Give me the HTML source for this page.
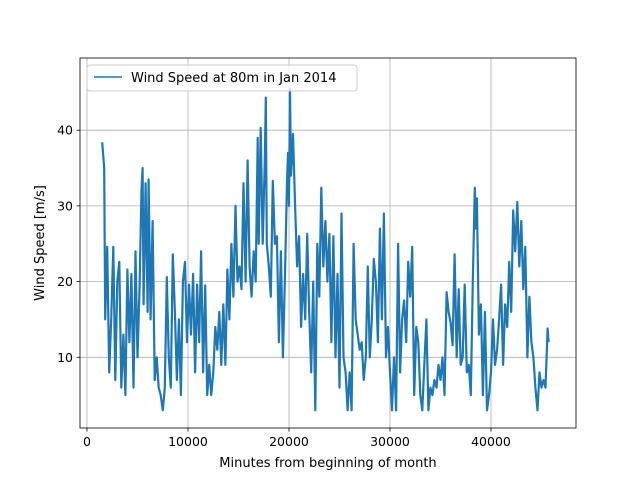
<!DOCTYPE html>
<html><head><meta charset="utf-8"><style>body{margin:0;background:#fff}svg{display:block;font-family:"DejaVu Sans","Liberation Sans",sans-serif}</style></head>
<body>
<svg id="chart" width="640" height="480">
<rect x="80" y="58" width="496" height="370" fill="#fff" stroke="none"/>
<g id="grid"></g>
<path id="line" fill="none" stroke="#1f77b4" stroke-width="2.2" stroke-linejoin="round"/>
<rect x="80" y="58" width="496" height="370" fill="none" stroke="#000" stroke-width="0.8"/>
<g id="ticks"></g>
<text x="328" y="467" font-size="13" text-anchor="middle">Minutes from beginning of month</text>
<text transform="translate(44,243) rotate(-90)" font-size="13" text-anchor="middle">Wind Speed [m/s]</text>
<g>
<rect x="87" y="65" width="270" height="26" rx="3" fill="#fff" fill-opacity="0.8" stroke="#ccc"/>
<line x1="94" y1="77" x2="122" y2="77" stroke="#1f77b4" stroke-width="1.5"/>
<text x="131" y="82" font-size="13">Wind Speed at 80m in Jan 2014</text>
</g>
</svg>
<script>
const minutes=[1500,1700,1800,2000,2200,2400,2600,2800,3000,3200,3400,3600,3800,4000,4200,4400,4600,4800,5000,5200,5400,5500,5600,5800,6000,6100,6300,6500,6700,6900,7100,7300,7500,7700,7900,8100,8300,8500,8700,8900,9100,9300,9500,9700,9900,10100,10300,10500,10700,10900,11100,11300,11500,11700,11900,12100,12300,12500,12700,12900,13100,13300,13500,13700,13900,14100,14300,14500,14700,14900,15100,15300,15500,15700,15900,16100,16300,16500,16700,16900,17000,17200,17400,17600,17700,17800,18000,18200,18400,18600,18800,19000,19200,19400,19600,19800,19900,20000,20100,20200,20400,20600,20800,21000,21200,21400,21600,21800,22000,22200,22400,22600,22800,23000,23200,23400,23600,23800,24000,24200,24400,24600,24800,25000,25200,25400,25600,25800,26000,26200,26400,26600,26800,27000,27200,27400,27600,27800,28000,28200,28400,28600,28800,29000,29200,29400,29600,29800,30000,30200,30400,30600,30800,31000,31200,31400,31600,31800,32000,32200,32400,32600,32800,33000,33200,33400,33600,33800,34000,34200,34400,34600,34800,35000,35200,35400,35600,35800,36000,36200,36400,36600,36800,37000,37200,37400,37600,37800,38000,38200,38400,38500,38600,38800,39000,39200,39400,39600,39800,40000,40200,40400,40600,40800,41000,41200,41400,41600,41800,42000,42200,42400,42600,42800,43000,43200,43400,43600,43800,44000,44200,44400,44600,44800,45000,45200,45400,45600,45700];
const speeds=[38.4,35,15,24.6,8,15,24.6,7,20,22.6,6,13,5,21.6,12,21,6,24,10,19,32,35,17,33,16,33.5,15,28,7,10,6,5,3,6,20.6,10,6,23.6,16,7,15,5,20,22.6,12,19.6,13,21,8,19.6,12,24,8,19.5,5,9,5,8,14,11,16,9,17,9,21.6,15,25,18,30,20,22,19,33,20,36,22,18,24,20,39,25,40.3,25,36,44.3,25,22,18,33.3,25,26,12,24,10,21,33,37,30,45.5,34,39.5,30,22,26,14,21,15,26.3,16,8,20,3,25,18,32.4,22,28,20,26.3,12,26,10,21,6,29,10,8,3,8,3,25,15,13,11,12,7,10,22,10,15,23,20,12,27,15,29,10,14,8,3,10,3,25,8,15,17.5,12,22.6,18,24.6,5,14,12,5,3,9,15,3,6,5,7,6,9,7,10,5,18.6,16,14.6,11.6,23.6,10,19,9,10,19.6,8,9,5,20,32.4,27,31,13,17,5,16,3,5,8,15,9,11,15,19.6,9,17,14,22.6,16,29.4,24,30.5,22,28,19,24.6,10,18,12,10,6,3,8,6,7,6,13.8,12];
const xTicks=[0,10000,20000,30000,40000];
const yTicks=[10,20,30,40];
const X=m=>87+m*0.0101;
const Y=v=>433-v*7.57;
const ns="http://www.w3.org/2000/svg";
const grid=document.getElementById('grid'),ticks=document.getElementById('ticks');
function mk(tag,attrs,parent){const e=document.createElementNS(ns,tag);for(const k in attrs)e.setAttribute(k,attrs[k]);parent.appendChild(e);return e;}
xTicks.forEach(t=>{const x=X(t);
 const g=mk('line',{x1:x,x2:x,y1:58,y2:428,stroke:'#b0b0b0','stroke-width':0.8},grid);
 
 
 mk('line',{x1:x,x2:x,y1:428,y2:431.5,stroke:'#000','stroke-width':0.8},ticks);
 const l=mk('text',{x:x,y:446,'font-size':12.5,'text-anchor':'middle'},ticks);l.textContent=t;
 
 });
yTicks.forEach(t=>{const y=Y(t);
 const g=mk('line',{x1:80,x2:576,y1:y,y2:y,stroke:'#b0b0b0','stroke-width':0.8},grid);
 
 
 mk('line',{x1:76.5,x2:80,y1:y,y2:y,stroke:'#000','stroke-width':0.8},ticks);
 const l=mk('text',{x:73,y:y+4.5,'font-size':12.5,'text-anchor':'end'},ticks);l.textContent=t;
 
 });
document.getElementById('line').setAttribute('d',minutes.map((m,i)=>(i?'L':'M')+X(m).toFixed(1)+','+Y(speeds[i]).toFixed(1)).join(''));
</script>
</body></html>
